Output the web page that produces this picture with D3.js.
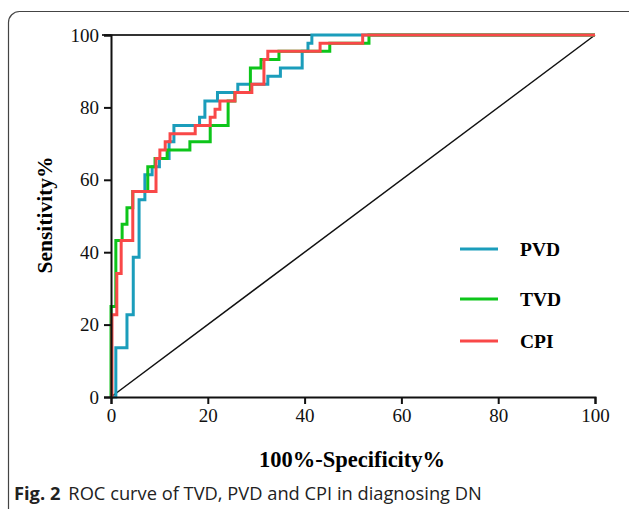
<!DOCTYPE html>
<html>
<head>
<meta charset="utf-8">
<script src="https://cdn.jsdelivr.net/npm/d3@7"></script>
<style>
  body { margin: 0; background: #fff; }
  svg { display: block; }
</style>
</head>
<body>
<div id="chart"></div>
<script>
// ROC steps, [100%-specificity, sensitivity] in %
const pvd = [[0,0],[1,0],[1,13.6],[3.3,13.6],[3.3,22.7],[4.6,22.7],[4.6,38.6],[5.8,38.6],[5.8,54.5],[7,54.5],[7,61.4],[8.5,61.4],[8.5,63.6],[10,63.6],[10,65.9],[12,65.9],[12,70.5],[13,70.5],[13,75],[18.3,75],[18.3,77.3],[19.4,77.3],[19.4,81.8],[22,81.8],[22,84.1],[26.2,84.1],[26.2,86.4],[32.4,86.4],[32.4,88.6],[35,88.6],[35,90.9],[39.5,90.9],[39.5,95.5],[40.7,95.5],[40.7,97.7],[41.5,97.7],[41.5,100],[100,100]];
const tvd = [[0,0],[0,25],[1,25],[1,43.2],[2.3,43.2],[2.3,47.7],[3.3,47.7],[3.3,52.3],[4.5,52.3],[4.5,56.8],[7.6,56.8],[7.6,63.6],[9.1,63.6],[9.1,65.9],[11.6,65.9],[11.6,68.2],[16.3,68.2],[16.3,70.5],[20.5,70.5],[20.5,75],[24.2,75],[24.2,81.8],[25.6,81.8],[25.6,84.1],[28.8,84.1],[28.8,90.9],[31,90.9],[31,93.2],[34.7,93.2],[34.7,95.5],[45.2,95.5],[45.2,97.7],[53.3,97.7],[53.3,100],[100,100]];
const cpi = [[0,0],[0.2,0],[0.2,22.7],[1.2,22.7],[1.2,34.1],[2.1,34.1],[2.1,43.2],[4.5,43.2],[4.5,56.8],[9.3,56.8],[9.3,65.9],[10.1,65.9],[10.1,68.2],[11.2,68.2],[11.2,70.5],[12.2,70.5],[12.2,72.7],[17.4,72.7],[17.4,75],[20.5,75],[20.5,77.3],[21.5,77.3],[21.5,79.5],[22.5,79.5],[22.5,81.8],[25.6,81.8],[25.6,84.1],[29.1,84.1],[29.1,86.4],[31.6,86.4],[31.6,93.2],[32.4,93.2],[32.4,95.5],[43.2,95.5],[43.2,97.7],[52,97.7],[52,100],[100,100]];
const reference = [[0,0],[100,100]];
const seriesNames = ["PVD", "TVD", "CPI"];
const seriesColors = ["#1b9dbb", "#0dc51a", "#f94848"];
const ticks = [0, 20, 40, 60, 80, 100];

const W = 629, H = 509;
const margin = {top: 35, right: 34, bottom: 112, left: 111},
    width = W - margin.left - margin.right,
    height = H - margin.top - margin.bottom;

const serif = "'Liberation Serif', 'Times New Roman', serif";

const svg = d3.select("#chart").append("svg")
    .attr("width", W)
    .attr("height", H);

// figure frame
svg.append("rect")
    .attr("x", 8.5).attr("y", 11.5)
    .attr("width", 660).attr("height", 520)
    .attr("rx", 11)
    .attr("fill", "none")
    .attr("stroke", "#444")
    .attr("stroke-width", 1.2);

const g = svg.append("g")
    .attr("transform", "translate(" + margin.left + "," + margin.top + ")");

const x = d3.scaleLinear().domain([0, 100]).range([0, width]);
const y = d3.scaleLinear().domain([0, 100]).range([height, 0]);

// top border line
g.append("line")
    .attr("x1", -9).attr("x2", width)
    .attr("y1", y(100)).attr("y2", y(100))
    .attr("stroke", "#333").attr("stroke-width", 2.2);

// reference diagonal
const line = d3.line().x(d => x(d[0])).y(d => y(d[1]));
g.append("path")
    .datum(reference)
    .attr("d", line)
    .attr("fill", "none")
    .attr("stroke", "#111")
    .attr("stroke-width", 1.5);

// curves
[pvd, tvd, cpi].forEach((data, i) => {
    g.append("path")
        .datum(data)
        .attr("d", line)
        .attr("fill", "none")
        .attr("stroke", seriesColors[i])
        .attr("stroke-width", 3)
        .attr("stroke-linejoin", "miter");
});

// axes
const xAxis = g.append("g")
    .attr("transform", "translate(0," + height + ")")
    .call(d3.axisBottom(x).tickValues(ticks).tickSize(7).tickPadding(5));
const yAxis = g.append("g")
    .call(d3.axisLeft(y).tickValues(ticks).tickSize(7).tickPadding(5));

[xAxis, yAxis].forEach(a => {
    a.select(".domain").attr("stroke", "#111").attr("stroke-width", 2);
    a.selectAll(".tick line").attr("stroke", "#111").attr("stroke-width", 2);
    a.selectAll(".tick text")
        .attr("fill", "#111")
        .style("font-family", serif)
        .style("font-size", "19px");
});

// axis titles
svg.append("text")
    .attr("x", 352).attr("y", 467)
    .attr("text-anchor", "middle")
    .style("font-family", serif)
    .style("font-weight", "bold")
    .style("font-size", "22.5px")
    .text("100%-Specificity%");

svg.append("text")
    .attr("transform", "translate(52,215) rotate(-90)")
    .attr("text-anchor", "middle")
    .style("font-family", serif)
    .style("font-weight", "bold")
    .style("font-size", "21.5px")
    .text("Sensitivity%");

// legend
const legendY = [249, 299, 341];
const legend = svg.append("g");
seriesNames.forEach((name, i) => {
    legend.append("line")
        .attr("x1", 460).attr("x2", 498)
        .attr("y1", legendY[i]).attr("y2", legendY[i])
        .attr("stroke", seriesColors[i])
        .attr("stroke-width", 3);
    legend.append("text")
        .attr("x", 520).attr("y", legendY[i] + 7)
        .style("font-family", serif)
        .style("font-weight", "bold")
        .style("font-size", "19.5px")
        .text(name);
});

// caption
const cap = svg.append("text")
    .attr("x", 14).attr("y", 500)
    .style("font-family", "'Open Sans', 'Noto Sans', sans-serif")
    .style("font-size", "18.3px")
    .attr("fill", "#222");
cap.append("tspan").style("font-weight", "bold").text("Fig. 2");
cap.append("tspan").attr("dx", 8).text("ROC curve of TVD, PVD and CPI in diagnosing DN");
</script>
</body>
</html>
